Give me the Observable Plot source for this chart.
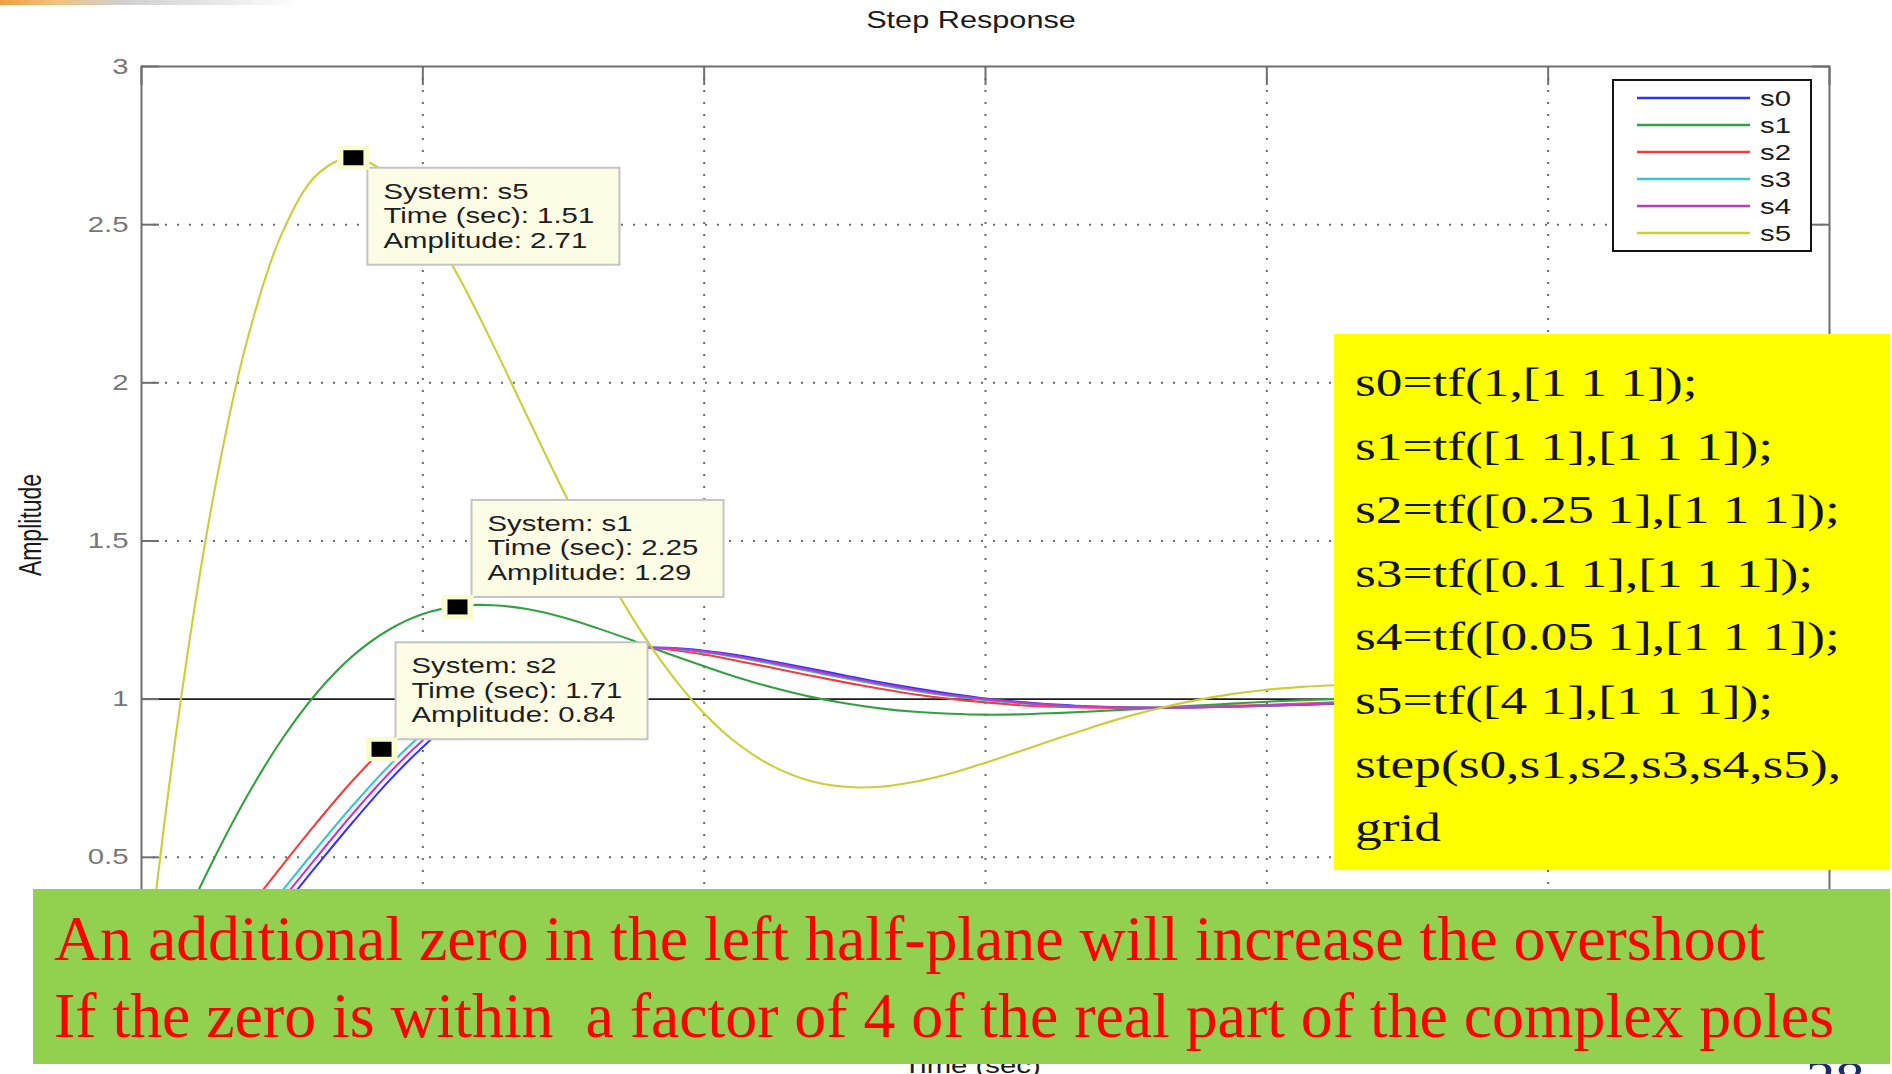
<!DOCTYPE html>
<html>
<head>
<meta charset="utf-8">
<script src="https://cdn.jsdelivr.net/npm/d3@7"></script>
<script src="https://cdn.jsdelivr.net/npm/@observablehq/plot@0.6"></script>
<style>
  html, body { margin: 0; padding: 0; background: #fff; }
  body { width: 1892px; height: 1074px; overflow: hidden; position: relative; }
  #chart svg { display: block; }
  #slide-strip {
    position: absolute; left: 0; top: 0; width: 300px; height: 5px; z-index: 2;
    background: linear-gradient(to right, #eea040 0px, #f2c07a 55px, #cfcfcf 120px, #e6e6e6 210px, rgba(255,255,255,0) 300px);
  }
</style>
</head>
<body>
<div id="chart"></div>
<div id="slide-strip"></div>
<script>
// ---- step responses of s0..s5 (sampled every 0.25 s) ----
const time = [0, 0.25, 0.5, 0.75, 1, 1.25, 1.5, 1.75, 2, 2.25, 2.5, 2.75, 3, 3.25, 3.5, 3.75,
  4, 4.25, 4.5, 4.75, 5, 5.25, 5.5, 5.75, 6, 6.25, 6.5, 6.75, 7, 7.25, 7.5, 7.75,
  8, 8.25, 8.5, 8.75, 9, 9.25, 9.5, 9.75, 10, 10.25, 10.5, 10.75, 11, 11.25, 11.5, 11.75, 12];

const s0 = [0, 0.029, 0.104, 0.213, 0.340, 0.476, 0.610, 0.737, 0.849, 0.946, 1.023, 1.083, 1.124, 1.150, 1.162, 1.162,
  1.153, 1.138, 1.118, 1.097, 1.075, 1.053, 1.034, 1.017, 1.002, 0.991, 0.983, 0.977, 0.974, 0.973, 0.974, 0.976,
  0.979, 0.982, 0.986, 0.990, 0.993, 0.996, 0.998, 1.001, 1.002, 1.003, 1.004, 1.004, 1.004, 1.004, 1.004, 1.003, 1.003];

const s1 = [0, 0.248, 0.482, 0.693, 0.874, 1.022, 1.136, 1.217, 1.269, 1.294, 1.297, 1.284, 1.258, 1.223, 1.184, 1.143,
  1.104, 1.067, 1.035, 1.008, 0.987, 0.971, 0.960, 0.954, 0.951, 0.952, 0.956, 0.961, 0.967, 0.973, 0.980, 0.986,
  0.992, 0.997, 1.001, 1.004, 1.006, 1.007, 1.008, 1.008, 1.008, 1.007, 1.006, 1.005, 1.004, 1.003, 1.002, 1.001, 1.000];

const s2 = [0, 0.083, 0.199, 0.333, 0.474, 0.612, 0.742, 0.857, 0.954, 1.033, 1.092, 1.133, 1.158, 1.168, 1.167, 1.157,
  1.141, 1.120, 1.098, 1.075, 1.053, 1.033, 1.015, 1.001, 0.990, 0.981, 0.976, 0.973, 0.972, 0.973, 0.976, 0.979,
  0.982, 0.986, 0.990, 0.993, 0.996, 0.999, 1.001, 1.002, 1.004, 1.004, 1.004, 1.004, 1.004, 1.004, 1.003, 1.003, 1.002];

const s3 = [0, 0.051, 0.142, 0.261, 0.394, 0.531, 0.663, 0.785, 0.891, 0.980, 1.051, 1.103, 1.138, 1.157, 1.164, 1.160,
  1.148, 1.131, 1.110, 1.088, 1.066, 1.045, 1.026, 1.010, 0.997, 0.987, 0.980, 0.976, 0.974, 0.973, 0.975, 0.977,
  0.980, 0.984, 0.988, 0.991, 0.994, 0.997, 0.999, 1.001, 1.003, 1.004, 1.004, 1.004, 1.004, 1.004, 1.004, 1.003, 1.002];

const s4 = [0, 0.040, 0.123, 0.237, 0.367, 0.503, 0.637, 0.761, 0.870, 0.963, 1.037, 1.093, 1.131, 1.154, 1.163, 1.161,
  1.151, 1.134, 1.114, 1.092, 1.070, 1.049, 1.030, 1.013, 1.000, 0.989, 0.981, 0.977, 0.974, 0.973, 0.974, 0.977,
  0.980, 0.983, 0.987, 0.990, 0.994, 0.997, 0.999, 1.001, 1.002, 1.004, 1.004, 1.004, 1.004, 1.004, 1.004, 1.003, 1.003];

const s5 = [0, 0.904, 1.614, 2.133, 2.474, 2.659, 2.712, 2.659, 2.527, 2.339, 2.120, 1.887, 1.657, 1.442, 1.250, 1.087,
  0.955, 0.855, 0.785, 0.742, 0.723, 0.723, 0.739, 0.765, 0.799, 0.836, 0.874, 0.910, 0.944, 0.973, 0.997, 1.016,
  1.030, 1.039, 1.044, 1.046, 1.044, 1.041, 1.036, 1.030, 1.024, 1.018, 1.012, 1.007, 1.002, 0.999, 0.996, 0.994, 0.993];

const systemNames = ["s0", "s1", "s2", "s3", "s4", "s5"];
const systemColors = ["#3434f4", "#35a043", "#f43c3c", "#38c6c6", "#c238c6", "#cdcd3a"];

// data tips: system, time (sec), amplitude
const tipSystems = ["s5", "s1", "s2"];
const tipTimes = [1.51, 2.25, 1.71];
const tipAmplitudes = [2.71, 1.29, 0.84];

const xTicks = [0, 2, 4, 6, 8, 10, 12];
const yTicks = [0, 0.5, 1, 1.5, 2, 2.5, 3];
const yTickLabels = ["", "0.5", "1", "1.5", "2", "2.5", "3"];  // 0 sits under the note box

const titleText = "Step Response";
const xLabelText = "Time (sec)";
const yLabelText = "Amplitude";

const codeLines = [
  "s0=tf(1,[1 1 1]);",
  "s1=tf([1 1],[1 1 1]);",
  "s2=tf([0.25 1],[1 1 1]);",
  "s3=tf([0.1 1],[1 1 1]);",
  "s4=tf([0.05 1],[1 1 1]);",
  "s5=tf([4 1],[1 1 1]);",
  "step(s0,s1,s2,s3,s4,s5),",
  "grid"
];
const noteLines = [
  "An additional zero in the left half-plane will increase the overshoot",
  "If the zero is within  a factor of 4 of the real part of the complex poles"
];
const pageNumber = "28";

// ---- long-format table for the line mark ----
const responses = [s0, s1, s2, s3, s4, s5];
const rows = systemNames.flatMap((name, i) =>
  time.map((t, j) => ({system: name, t, amplitude: responses[i][j]})));

const W = 1892, H = 1074;
const WIDE = 4 / 3;               // the slide is shown widened, so glyphs are broad
const frameGray = "#6f6f6f";
const tickTextGray = "#777777";
const gridStyle = {stroke: "#6a6a6a", strokeOpacity: 1, strokeWidth: 2, strokeDasharray: "2,10"};

const chart = Plot.plot({
  width: W,
  height: H,
  marginLeft: 141,
  marginRight: 63,
  marginTop: 66,
  marginBottom: 59,
  style: {fontFamily: "'Liberation Sans', Arial, Helvetica, sans-serif", fontSize: "22px", background: "#fff", overflow: "visible"},
  x: {domain: [0, 12]},
  y: {domain: [0, 3]},
  color: {domain: systemNames, range: systemColors},
  marks: [
    Plot.gridX(xTicks.slice(1, -1), gridStyle),
    Plot.gridY(yTicks.slice(1, -1).filter(v => v !== 1), gridStyle),
    Plot.ruleY([1], {stroke: "#1c1c1c", strokeWidth: 1.8}),
    Plot.line(rows, {x: "t", y: "amplitude", z: "system", stroke: "system", strokeWidth: 2.1, curve: "catmull-rom"}),
    Plot.frame({stroke: frameGray, strokeWidth: 2}),
    Plot.axisY(yTicks, {anchor: "left", tickSize: -18, tickPadding: 31, stroke: frameGray, strokeWidth: 2,
      fill: tickTextGray, tickFormat: d => yTickLabels[yTicks.indexOf(d)], label: null}),
    Plot.axisY(yTicks, {anchor: "right", tickSize: -18, stroke: frameGray, strokeWidth: 2,
      tickFormat: () => "", label: null}),
    // bottom tick labels lie under the note box, so only the tick marks are drawn
    Plot.axisX(xTicks, {anchor: "bottom", tickSize: -18, stroke: frameGray, strokeWidth: 2,
      tickFormat: () => "", label: null}),
    Plot.axisX(xTicks, {anchor: "top", tickSize: -18, stroke: frameGray, strokeWidth: 2,
      tickFormat: () => "", label: null})
  ]
});

document.getElementById("chart").append(chart);

const svg = d3.select(chart);
const xs = chart.scale("x");
const ys = chart.scale("y");

// widen a text element horizontally while keeping it as text
function widen(node, k = WIDE) {
  const w = node.getComputedTextLength();
  if (w > 0) {
    node.setAttribute("textLength", (w * k).toFixed(1));
    node.setAttribute("lengthAdjust", "spacingAndGlyphs");
  }
}

svg.selectAll('g[aria-label="y-axis tick label"] text')
  .each(function() { widen(this); });

// title and axis labels
svg.append("text")
  .attr("x", 971).attr("y", 28)
  .attr("text-anchor", "middle")
  .attr("font-size", 23)
  .attr("fill", "#1a1a1a")
  .text(titleText)
  .each(function() { widen(this); });

svg.append("g")
  .attr("transform", `translate(30,525) scale(${WIDE},1) rotate(-90)`)
  .append("text")
  .attr("text-anchor", "middle")
  .attr("dy", "0.35em")
  .attr("font-size", 23)
  .attr("fill", "#1a1a1a")
  .text(yLabelText);

svg.append("text")
  .attr("x", 972).attr("y", 1073)
  .attr("text-anchor", "middle")
  .attr("font-size", 22)
  .attr("fill", "#1a1a1a")
  .text(xLabelText)
  .each(function() { widen(this); });

// legend
const legend = svg.append("g").attr("class", "legend").attr("text-anchor", "start");
legend.append("rect")
  .attr("x", 1613).attr("y", 80).attr("width", 198).attr("height", 171)
  .attr("fill", "#fff").attr("stroke", "#141414").attr("stroke-width", 2);
systemNames.forEach((name, i) => {
  const cy = 98 + i * 27;
  legend.append("line")
    .attr("x1", 1637).attr("x2", 1750).attr("y1", cy).attr("y2", cy)
    .attr("stroke", systemColors[i]).attr("stroke-width", 2.5);
  legend.append("text")
    .attr("x", 1760).attr("y", cy).attr("dy", "0.36em")
    .attr("text-anchor", "start")
    .attr("font-size", 22).attr("fill", "#1a1a1a")
    .text(name)
    .each(function() { widen(this); });
});

// data tips
const tipBelow = {s5: true, s1: false, s2: false};
tipSystems.forEach((name, i) => {
  const px = xs.apply(tipTimes[i]);
  const py = ys.apply(tipAmplitudes[i]);
  const g = svg.append("g").attr("class", "datatip").attr("text-anchor", "start");
  const boxW = 252, boxH = 97;
  const left = px + 14;
  const top = tipBelow[name] ? py + 10 : py - 10 - boxH;
  g.append("rect")
    .attr("x", left).attr("y", top).attr("width", boxW).attr("height", boxH)
    .attr("fill", "#fdfde6").attr("stroke", "#c4c4c4").attr("stroke-width", 2);
  const lines = [
    `System: ${name}`,
    `Time (sec): ${tipTimes[i].toFixed(2)}`,
    `Amplitude: ${tipAmplitudes[i].toFixed(2)}`
  ];
  lines.forEach((s, k) => {
    g.append("text")
      .attr("x", px + 30).attr("y", top + 31 + k * 24.5)
      .attr("text-anchor", "start")
      .attr("font-size", 22).attr("fill", "#1e1e1e")
      .text(s)
      .each(function() { widen(this); });
  });
  g.append("rect")
    .attr("x", px - 16).attr("y", py - 12).attr("width", 32).attr("height", 24)
    .attr("fill", "#fbfbd0");
  g.append("rect")
    .attr("x", px - 10).attr("y", py - 7.5).attr("width", 20).attr("height", 15)
    .attr("fill", "#000");
});

// slide overlays: code box, page number, note box
const code = svg.append("g").attr("class", "code-box").attr("text-anchor", "start");
code.append("rect")
  .attr("x", 1334).attr("y", 334).attr("width", 556).attr("height", 536)
  .attr("fill", "#ffff00");
codeLines.forEach((s, i) => {
  code.append("text")
    .attr("x", 1355).attr("y", 396 + i * 63.6)
    .attr("text-anchor", "start")
    .attr("font-family", "'Liberation Serif', 'Times New Roman', serif")
    .attr("font-size", 40).attr("fill", "#141414")
    .text(s)
    .each(function() { widen(this); });
});

svg.append("text")
  .attr("x", 1806).attr("y", 1092)
  .attr("text-anchor", "start")
  .attr("font-family", "'Liberation Serif', 'Times New Roman', serif")
  .attr("font-size", 44).attr("fill", "#1f2a6b")
  .text(pageNumber)
  .each(function() { widen(this); });

const note = svg.append("g").attr("class", "note-box").attr("text-anchor", "start");
note.append("rect")
  .attr("x", 33).attr("y", 889).attr("width", 1857).attr("height", 175)
  .attr("fill", "#92d050");
const noteWidths = [1711, 1780];
noteLines.forEach((s, i) => {
  note.append("text")
    .attr("x", 54).attr("y", 960 + i * 77)
    .attr("text-anchor", "start")
    .attr("font-family", "'Liberation Serif', 'Times New Roman', serif")
    .attr("font-size", 64).attr("fill", "#ff0000")
    .attr("xml:space", "preserve")
    .style("white-space", "pre")
    .attr("textLength", noteWidths[i])
    .attr("lengthAdjust", "spacingAndGlyphs")
    .text(s);
});
</script>
</body>
</html>
